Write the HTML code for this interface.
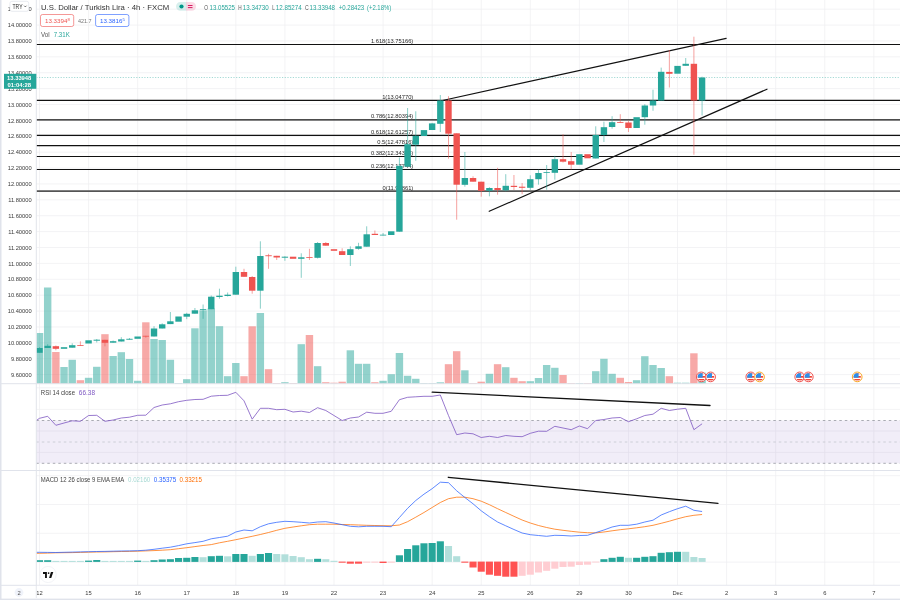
<!DOCTYPE html>
<html><head><meta charset="utf-8"><title>USDTRY</title>
<style>html,body{margin:0;padding:0;background:#fff;overflow:hidden}svg{display:block;opacity:0.999;will-change:transform}</style>
</head><body>
<svg width="900" height="600" viewBox="0 0 900 600" font-family="Liberation Sans, sans-serif">
<rect width="900" height="600" fill="#fff"/>
<path d="M39.5 0V585M88.58 0V585M137.66 0V585M186.74 0V585M235.82 0V585M284.9 0V585M333.98 0V585M383.06 0V585M432.14 0V585M481.22 0V585M530.3 0V585M579.38 0V585M628.46 0V585M677.54 0V585M726.62 0V585M775.7 0V585M824.78 0V585M873.86 0V585M36.3 9.16H900M36.3 25.05H900M36.3 40.94H900M36.3 56.83H900M36.3 72.72H900M36.3 88.61H900M36.3 104.5H900M36.3 120.39H900M36.3 136.28H900M36.3 152.17H900M36.3 168.06H900M36.3 183.95H900M36.3 199.84H900M36.3 215.73H900M36.3 231.62H900M36.3 247.51H900M36.3 263.4H900M36.3 279.29H900M36.3 295.18H900M36.3 311.07H900M36.3 326.96H900M36.3 342.85H900M36.3 358.74H900M36.3 374.63H900M36.3 387.8H900M36.3 409.4H900M36.3 431H900M36.3 452.4H900M36.3 475.7H900M36.3 504.5H900M36.3 533.3H900M36.3 562.1H900" stroke="#efeff2" stroke-width="0.75" fill="none"/>
<rect x="36.3" y="420.5" width="863.7" height="42.8" fill="#7e57c2" fill-opacity="0.11"/>
<path d="M36.3 420.5H900M36.3 463.3H900" stroke="#9598a1" stroke-width="0.8" stroke-dasharray="2.5 3" fill="none"/>
<path d="M36.3 442H900" stroke="#c4c6ce" stroke-width="0.8" stroke-dasharray="2.5 3" fill="none"/>
<path d="M36.3 44.5H900" stroke="#111" stroke-width="1.2"/>
<text x="413.3" y="43.1" font-size="6.2" text-anchor="end" fill="#2a2a2a" textLength="42.42" lengthAdjust="spacingAndGlyphs">1.618(13.75166)</text>
<path d="M36.3 100.45H900" stroke="#111" stroke-width="1.2"/>
<text x="413.3" y="99.05" font-size="6.2" text-anchor="end" fill="#2a2a2a" textLength="31.17" lengthAdjust="spacingAndGlyphs">1(13.04770)</text>
<path d="M36.3 119.85H900" stroke="#111" stroke-width="1.25"/>
<text x="413.3" y="118.45" font-size="6.2" text-anchor="end" fill="#2a2a2a" textLength="42.42" lengthAdjust="spacingAndGlyphs">0.786(12.80394)</text>
<path d="M36.3 135.35H900" stroke="#111" stroke-width="1.2"/>
<text x="413.3" y="133.95" font-size="6.2" text-anchor="end" fill="#2a2a2a" textLength="42.42" lengthAdjust="spacingAndGlyphs">0.618(12.61257)</text>
<path d="M36.3 145.6H900" stroke="#111" stroke-width="1.2"/>
<text x="413.3" y="144.2" font-size="6.2" text-anchor="end" fill="#2a2a2a" textLength="35.99" lengthAdjust="spacingAndGlyphs">0.5(12.47816)</text>
<path d="M36.3 156.5H900" stroke="#111" stroke-width="1.2"/>
<text x="413.3" y="155.1" font-size="6.2" text-anchor="end" fill="#2a2a2a" textLength="42.42" lengthAdjust="spacingAndGlyphs">0.382(12.34375)</text>
<path d="M36.3 169.5H900" stroke="#111" stroke-width="1.2"/>
<text x="413.3" y="168.1" font-size="6.2" text-anchor="end" fill="#2a2a2a" textLength="42.42" lengthAdjust="spacingAndGlyphs">0.236(12.17744)</text>
<path d="M36.3 191.05H900" stroke="#555" stroke-width="1.8"/>
<text x="413.3" y="189.65" font-size="6.2" text-anchor="end" fill="#2a2a2a" textLength="30.74" lengthAdjust="spacingAndGlyphs">0(11.90861)</text>
<rect x="36.6" y="333" width="6.6" height="50.7" fill="#26a69a" fill-opacity="0.5"/>
<rect x="43.98" y="287.5" width="7.4" height="96.2" fill="#26a69a" fill-opacity="0.5"/>
<rect x="52.16" y="352" width="7.4" height="31.7" fill="#ef5350" fill-opacity="0.5"/>
<rect x="60.34" y="367" width="7.4" height="16.7" fill="#26a69a" fill-opacity="0.5"/>
<rect x="68.52" y="359.8" width="7.4" height="23.9" fill="#26a69a" fill-opacity="0.5"/>
<rect x="76.7" y="380.2" width="7.4" height="3.5" fill="#ef5350" fill-opacity="0.5"/>
<rect x="84.88" y="377.8" width="7.4" height="5.9" fill="#26a69a" fill-opacity="0.5"/>
<rect x="93.06" y="366.8" width="7.4" height="16.9" fill="#26a69a" fill-opacity="0.5"/>
<rect x="101.24" y="334.2" width="7.4" height="49.5" fill="#ef5350" fill-opacity="0.5"/>
<rect x="109.42" y="356" width="7.4" height="27.7" fill="#26a69a" fill-opacity="0.5"/>
<rect x="117.6" y="352.2" width="7.4" height="31.5" fill="#26a69a" fill-opacity="0.5"/>
<rect x="125.78" y="359" width="7.4" height="24.7" fill="#26a69a" fill-opacity="0.5"/>
<rect x="133.96" y="380.8" width="7.4" height="2.9" fill="#26a69a" fill-opacity="0.5"/>
<rect x="142.14" y="322.3" width="7.4" height="61.4" fill="#ef5350" fill-opacity="0.5"/>
<rect x="150.32" y="339" width="7.4" height="44.7" fill="#26a69a" fill-opacity="0.5"/>
<rect x="158.5" y="340" width="7.4" height="43.7" fill="#26a69a" fill-opacity="0.5"/>
<rect x="166.68" y="359.8" width="7.4" height="23.9" fill="#26a69a" fill-opacity="0.5"/>
<rect x="174.86" y="383" width="7.4" height="0.7" fill="#26a69a" fill-opacity="0.5"/>
<rect x="183.04" y="379.2" width="7.4" height="4.5" fill="#26a69a" fill-opacity="0.5"/>
<rect x="191.22" y="328.3" width="7.4" height="55.4" fill="#26a69a" fill-opacity="0.5"/>
<rect x="199.4" y="310.3" width="7.4" height="73.4" fill="#26a69a" fill-opacity="0.5"/>
<rect x="207.58" y="308.5" width="7.4" height="75.2" fill="#26a69a" fill-opacity="0.5"/>
<rect x="215.76" y="326.2" width="7.4" height="57.5" fill="#26a69a" fill-opacity="0.5"/>
<rect x="223.94" y="376.2" width="7.4" height="7.5" fill="#26a69a" fill-opacity="0.5"/>
<rect x="232.12" y="363" width="7.4" height="20.7" fill="#26a69a" fill-opacity="0.5"/>
<rect x="240.3" y="376.2" width="7.4" height="7.5" fill="#ef5350" fill-opacity="0.5"/>
<rect x="248.48" y="326.3" width="7.4" height="57.4" fill="#ef5350" fill-opacity="0.5"/>
<rect x="256.66" y="313" width="7.4" height="70.7" fill="#26a69a" fill-opacity="0.5"/>
<rect x="264.84" y="369.2" width="7.4" height="14.5" fill="#ef5350" fill-opacity="0.5"/>
<rect x="273.02" y="383" width="7.4" height="0.7" fill="#ef5350" fill-opacity="0.5"/>
<rect x="281.2" y="382.2" width="7.4" height="1.5" fill="#26a69a" fill-opacity="0.5"/>
<rect x="289.38" y="383" width="7.4" height="0.7" fill="#ef5350" fill-opacity="0.5"/>
<rect x="297.56" y="344.2" width="7.4" height="39.5" fill="#26a69a" fill-opacity="0.5"/>
<rect x="305.74" y="335" width="7.4" height="48.7" fill="#ef5350" fill-opacity="0.5"/>
<rect x="313.92" y="366.2" width="7.4" height="17.5" fill="#26a69a" fill-opacity="0.5"/>
<rect x="322.1" y="382.2" width="7.4" height="1.5" fill="#ef5350" fill-opacity="0.5"/>
<rect x="330.28" y="382.7" width="7.4" height="1" fill="#ef5350" fill-opacity="0.5"/>
<rect x="338.46" y="381.7" width="7.4" height="2" fill="#ef5350" fill-opacity="0.5"/>
<rect x="346.64" y="350.3" width="7.4" height="33.4" fill="#26a69a" fill-opacity="0.5"/>
<rect x="354.82" y="363.8" width="7.4" height="19.9" fill="#26a69a" fill-opacity="0.5"/>
<rect x="363" y="363.8" width="7.4" height="19.9" fill="#26a69a" fill-opacity="0.5"/>
<rect x="371.18" y="382.2" width="7.4" height="1.5" fill="#ef5350" fill-opacity="0.5"/>
<rect x="379.36" y="380.8" width="7.4" height="2.9" fill="#26a69a" fill-opacity="0.5"/>
<rect x="387.54" y="374.2" width="7.4" height="9.5" fill="#26a69a" fill-opacity="0.5"/>
<rect x="395.72" y="353" width="7.4" height="30.7" fill="#26a69a" fill-opacity="0.5"/>
<rect x="403.9" y="375.8" width="7.4" height="7.9" fill="#26a69a" fill-opacity="0.5"/>
<rect x="412.08" y="378.8" width="7.4" height="4.9" fill="#26a69a" fill-opacity="0.5"/>
<rect x="420.26" y="383" width="7.4" height="0.7" fill="#26a69a" fill-opacity="0.5"/>
<rect x="428.44" y="383" width="7.4" height="0.7" fill="#26a69a" fill-opacity="0.5"/>
<rect x="436.62" y="382.3" width="7.4" height="1.4" fill="#26a69a" fill-opacity="0.5"/>
<rect x="444.8" y="364.2" width="7.4" height="19.5" fill="#ef5350" fill-opacity="0.5"/>
<rect x="452.98" y="351.2" width="7.4" height="32.5" fill="#ef5350" fill-opacity="0.5"/>
<rect x="461.16" y="370.3" width="7.4" height="13.4" fill="#26a69a" fill-opacity="0.5"/>
<rect x="469.34" y="383" width="7.4" height="0.7" fill="#ef5350" fill-opacity="0.5"/>
<rect x="477.52" y="381.7" width="7.4" height="2" fill="#ef5350" fill-opacity="0.5"/>
<rect x="485.7" y="373.8" width="7.4" height="9.9" fill="#26a69a" fill-opacity="0.5"/>
<rect x="493.88" y="364.2" width="7.4" height="19.5" fill="#ef5350" fill-opacity="0.5"/>
<rect x="502.06" y="367.2" width="7.4" height="16.5" fill="#26a69a" fill-opacity="0.5"/>
<rect x="510.24" y="377.8" width="7.4" height="5.9" fill="#ef5350" fill-opacity="0.5"/>
<rect x="518.42" y="381.2" width="7.4" height="2.5" fill="#ef5350" fill-opacity="0.5"/>
<rect x="526.6" y="381.2" width="7.4" height="2.5" fill="#26a69a" fill-opacity="0.5"/>
<rect x="534.78" y="378" width="7.4" height="5.7" fill="#26a69a" fill-opacity="0.5"/>
<rect x="542.96" y="365" width="7.4" height="18.7" fill="#26a69a" fill-opacity="0.5"/>
<rect x="551.14" y="367.8" width="7.4" height="15.9" fill="#26a69a" fill-opacity="0.5"/>
<rect x="559.32" y="375" width="7.4" height="8.7" fill="#ef5350" fill-opacity="0.5"/>
<rect x="567.5" y="383" width="7.4" height="0.7" fill="#ef5350" fill-opacity="0.5"/>
<rect x="575.68" y="383" width="7.4" height="0.7" fill="#26a69a" fill-opacity="0.5"/>
<rect x="583.86" y="383" width="7.4" height="0.7" fill="#ef5350" fill-opacity="0.5"/>
<rect x="592.04" y="371.2" width="7.4" height="12.5" fill="#26a69a" fill-opacity="0.5"/>
<rect x="600.22" y="358.8" width="7.4" height="24.9" fill="#26a69a" fill-opacity="0.5"/>
<rect x="608.4" y="373.8" width="7.4" height="9.9" fill="#26a69a" fill-opacity="0.5"/>
<rect x="616.58" y="377.8" width="7.4" height="5.9" fill="#ef5350" fill-opacity="0.5"/>
<rect x="624.76" y="382" width="7.4" height="1.7" fill="#ef5350" fill-opacity="0.5"/>
<rect x="632.94" y="380.2" width="7.4" height="3.5" fill="#26a69a" fill-opacity="0.5"/>
<rect x="641.12" y="356.2" width="7.4" height="27.5" fill="#26a69a" fill-opacity="0.5"/>
<rect x="649.3" y="365" width="7.4" height="18.7" fill="#26a69a" fill-opacity="0.5"/>
<rect x="657.48" y="368" width="7.4" height="15.7" fill="#26a69a" fill-opacity="0.5"/>
<rect x="665.66" y="376.2" width="7.4" height="7.5" fill="#ef5350" fill-opacity="0.5"/>
<rect x="673.84" y="382.7" width="7.4" height="1" fill="#26a69a" fill-opacity="0.5"/>
<rect x="682.02" y="382.7" width="7.4" height="1" fill="#26a69a" fill-opacity="0.5"/>
<rect x="690.2" y="353.3" width="7.4" height="30.4" fill="#ef5350" fill-opacity="0.5"/>
<rect x="698.38" y="372.6" width="7.4" height="11.1" fill="#26a69a" fill-opacity="0.5"/>
<path d="M442.5 100.5L726.2 38.3M489.2 211.3L767 89.2" stroke="#111" stroke-width="1.2" fill="none" stroke-linecap="round"/>
<path d="M36.3 77.5H900" stroke="#26a69a" stroke-opacity="0.6" stroke-width="0.7" stroke-dasharray="1.2 1.5"/>
<path d="M39.5 347.2V352.8" stroke="#26a69a" stroke-width="0.75" stroke-opacity="0.72"/>
<rect x="36.6" y="348" width="6.1" height="4.8" fill="#26a69a"/>
<path d="M47.68 344.2V348" stroke="#26a69a" stroke-width="0.75" stroke-opacity="0.72"/>
<rect x="44.48" y="345.8" width="6.4" height="2.2" fill="#26a69a"/>
<path d="M55.86 345.5V350.3" stroke="#ef5350" stroke-width="0.75" stroke-opacity="0.72"/>
<rect x="52.66" y="346.2" width="6.4" height="2.6" fill="#ef5350"/>
<rect x="60.84" y="347.2" width="6.4" height="1.6" fill="#26a69a"/>
<path d="M72.22 343.3V347.7" stroke="#26a69a" stroke-width="0.75" stroke-opacity="0.72"/>
<rect x="69.02" y="345.2" width="6.4" height="2.5" fill="#26a69a"/>
<path d="M80.4 341.3V345.8" stroke="#ef5350" stroke-width="0.75" stroke-opacity="0.72"/>
<rect x="77.2" y="345" width="6.4" height="0.8" fill="#ef5350"/>
<rect x="85.38" y="340.3" width="6.4" height="3.2" fill="#26a69a"/>
<path d="M96.76 339V342.5" stroke="#26a69a" stroke-width="0.75" stroke-opacity="0.72"/>
<rect x="93.56" y="339.7" width="6.4" height="1" fill="#26a69a"/>
<path d="M104.94 339.8V346.3" stroke="#ef5350" stroke-width="0.75" stroke-opacity="0.72"/>
<rect x="101.74" y="339.8" width="6.4" height="3" fill="#ef5350"/>
<path d="M113.12 340.5V342.7" stroke="#26a69a" stroke-width="0.75" stroke-opacity="0.72"/>
<rect x="109.92" y="341.2" width="6.4" height="1.5" fill="#26a69a"/>
<path d="M121.3 337.2V341.5" stroke="#26a69a" stroke-width="0.75" stroke-opacity="0.72"/>
<rect x="118.1" y="339.3" width="6.4" height="2.2" fill="#26a69a"/>
<path d="M129.48 338V339.7" stroke="#26a69a" stroke-width="0.75" stroke-opacity="0.72"/>
<rect x="126.28" y="338.8" width="6.4" height="0.9" fill="#26a69a"/>
<rect x="134.46" y="336.5" width="6.4" height="2.3" fill="#26a69a"/>
<path d="M145.84 335.8V337.8" stroke="#ef5350" stroke-width="0.75" stroke-opacity="0.72"/>
<rect x="142.64" y="335.8" width="6.4" height="0.8" fill="#ef5350"/>
<path d="M154.02 326.2V336.5" stroke="#26a69a" stroke-width="0.75" stroke-opacity="0.72"/>
<rect x="150.82" y="328.5" width="6.4" height="8" fill="#26a69a"/>
<path d="M162.2 323.3V328.5" stroke="#26a69a" stroke-width="0.75" stroke-opacity="0.72"/>
<rect x="159" y="324.3" width="6.4" height="4.2" fill="#26a69a"/>
<path d="M170.38 312V324.1" stroke="#26a69a" stroke-width="0.75" stroke-opacity="0.72"/>
<rect x="167.18" y="321.3" width="6.4" height="2.8" fill="#26a69a"/>
<rect x="175.36" y="316.5" width="6.4" height="5.2" fill="#26a69a"/>
<path d="M186.74 312.8V319.2" stroke="#26a69a" stroke-width="0.75" stroke-opacity="0.72"/>
<rect x="183.54" y="313.8" width="6.4" height="2.9" fill="#26a69a"/>
<path d="M194.92 308V313.7" stroke="#26a69a" stroke-width="0.75" stroke-opacity="0.72"/>
<rect x="191.72" y="310.3" width="6.4" height="3.4" fill="#26a69a"/>
<path d="M203.1 304.5V318.8" stroke="#26a69a" stroke-width="0.75" stroke-opacity="0.72"/>
<rect x="199.9" y="309.2" width="6.4" height="0.8" fill="#26a69a"/>
<path d="M211.28 295.5V309.2" stroke="#26a69a" stroke-width="0.75" stroke-opacity="0.72"/>
<rect x="208.08" y="296.7" width="6.4" height="12.5" fill="#26a69a"/>
<path d="M219.46 288.7V298.7" stroke="#26a69a" stroke-width="0.75" stroke-opacity="0.72"/>
<rect x="216.26" y="295.7" width="6.4" height="1.3" fill="#26a69a"/>
<path d="M227.64 292.5V296.5" stroke="#26a69a" stroke-width="0.75" stroke-opacity="0.72"/>
<rect x="224.44" y="294.7" width="6.4" height="1.3" fill="#26a69a"/>
<path d="M235.82 266.7V294.7" stroke="#26a69a" stroke-width="0.75" stroke-opacity="0.72"/>
<rect x="232.62" y="272" width="6.4" height="22.7" fill="#26a69a"/>
<path d="M244 268.8V276.8" stroke="#ef5350" stroke-width="0.75" stroke-opacity="0.72"/>
<rect x="240.8" y="272" width="6.4" height="4.8" fill="#ef5350"/>
<path d="M252.18 276V293.7" stroke="#ef5350" stroke-width="0.75" stroke-opacity="0.72"/>
<rect x="248.98" y="277" width="6.4" height="13.7" fill="#ef5350"/>
<path d="M260.36 241.3V308.7" stroke="#26a69a" stroke-width="0.75" stroke-opacity="0.72"/>
<rect x="257.16" y="256" width="6.4" height="34.7" fill="#26a69a"/>
<path d="M268.54 253.8V268.8" stroke="#ef5350" stroke-width="0.75" stroke-opacity="0.72"/>
<rect x="265.34" y="255.3" width="6.4" height="0.9" fill="#ef5350"/>
<path d="M276.72 255.8V260" stroke="#ef5350" stroke-width="0.75" stroke-opacity="0.72"/>
<rect x="273.52" y="255.8" width="6.4" height="1.7" fill="#ef5350"/>
<path d="M284.9 256.2V260.8" stroke="#26a69a" stroke-width="0.75" stroke-opacity="0.72"/>
<rect x="281.7" y="256.7" width="6.4" height="1" fill="#26a69a"/>
<rect x="289.88" y="256.7" width="6.4" height="2.1" fill="#ef5350"/>
<path d="M301.26 253.3V277.8" stroke="#26a69a" stroke-width="0.75" stroke-opacity="0.72"/>
<rect x="298.06" y="257.3" width="6.4" height="1.5" fill="#26a69a"/>
<path d="M309.44 248.8V260" stroke="#ef5350" stroke-width="0.75" stroke-opacity="0.72"/>
<rect x="306.24" y="257" width="6.4" height="0.8" fill="#ef5350"/>
<path d="M317.62 242V258.5" stroke="#26a69a" stroke-width="0.75" stroke-opacity="0.72"/>
<rect x="314.42" y="243" width="6.4" height="14.8" fill="#26a69a"/>
<path d="M325.8 242V245.7" stroke="#ef5350" stroke-width="0.75" stroke-opacity="0.72"/>
<rect x="322.6" y="243" width="6.4" height="2.7" fill="#ef5350"/>
<rect x="330.78" y="249.2" width="6.4" height="1.6" fill="#ef5350"/>
<path d="M342.16 248.3V255" stroke="#ef5350" stroke-width="0.75" stroke-opacity="0.72"/>
<rect x="338.96" y="251.2" width="6.4" height="3.8" fill="#ef5350"/>
<path d="M350.34 246.3V266" stroke="#26a69a" stroke-width="0.75" stroke-opacity="0.72"/>
<rect x="347.14" y="249.2" width="6.4" height="5.8" fill="#26a69a"/>
<path d="M358.52 242.8V249.7" stroke="#26a69a" stroke-width="0.75" stroke-opacity="0.72"/>
<rect x="355.32" y="246.3" width="6.4" height="2.5" fill="#26a69a"/>
<path d="M366.7 226.3V246.7" stroke="#26a69a" stroke-width="0.75" stroke-opacity="0.72"/>
<rect x="363.5" y="234.3" width="6.4" height="12.4" fill="#26a69a"/>
<path d="M374.88 230.5V235" stroke="#ef5350" stroke-width="0.75" stroke-opacity="0.72"/>
<rect x="371.68" y="233.8" width="6.4" height="1.2" fill="#ef5350"/>
<path d="M383.06 233V235.5" stroke="#26a69a" stroke-width="0.75" stroke-opacity="0.72"/>
<rect x="379.86" y="234.7" width="6.4" height="0.8" fill="#26a69a"/>
<rect x="388.04" y="231.3" width="6.4" height="3.7" fill="#26a69a"/>
<path d="M399.42 157.5V231.7" stroke="#26a69a" stroke-width="0.75" stroke-opacity="0.72"/>
<rect x="396.22" y="165.8" width="6.4" height="65.9" fill="#26a69a"/>
<path d="M407.6 108V166.7" stroke="#26a69a" stroke-width="0.75" stroke-opacity="0.72"/>
<rect x="404.4" y="144.2" width="6.4" height="22.5" fill="#26a69a"/>
<path d="M415.78 111.3V160.8" stroke="#26a69a" stroke-width="0.75" stroke-opacity="0.72"/>
<rect x="412.58" y="135.8" width="6.4" height="8.9" fill="#26a69a"/>
<rect x="420.76" y="130.1" width="6.4" height="5.9" fill="#26a69a"/>
<path d="M432.14 122.9V130" stroke="#26a69a" stroke-width="0.75" stroke-opacity="0.72"/>
<rect x="428.94" y="123.4" width="6.4" height="6.6" fill="#26a69a"/>
<path d="M440.32 95V132" stroke="#26a69a" stroke-width="0.75" stroke-opacity="0.72"/>
<rect x="437.12" y="100.5" width="6.4" height="23.3" fill="#26a69a"/>
<path d="M448.5 96.2V158.7" stroke="#ef5350" stroke-width="0.75" stroke-opacity="0.72"/>
<rect x="445.3" y="100.5" width="6.4" height="33.2" fill="#ef5350"/>
<path d="M456.68 133.3V219.7" stroke="#ef5350" stroke-width="0.75" stroke-opacity="0.72"/>
<rect x="453.48" y="133.3" width="6.4" height="51.4" fill="#ef5350"/>
<path d="M464.86 152V186.7" stroke="#26a69a" stroke-width="0.75" stroke-opacity="0.72"/>
<rect x="461.66" y="178" width="6.4" height="6.8" fill="#26a69a"/>
<path d="M473.04 176.3V181.7" stroke="#ef5350" stroke-width="0.75" stroke-opacity="0.72"/>
<rect x="469.84" y="178" width="6.4" height="3.7" fill="#ef5350"/>
<path d="M481.22 181.7V196.7" stroke="#ef5350" stroke-width="0.75" stroke-opacity="0.72"/>
<rect x="478.02" y="181.7" width="6.4" height="9.1" fill="#ef5350"/>
<path d="M489.4 187.2V196.3" stroke="#26a69a" stroke-width="0.75" stroke-opacity="0.72"/>
<rect x="486.2" y="188" width="6.4" height="2.8" fill="#26a69a"/>
<path d="M497.58 167.8V194.7" stroke="#ef5350" stroke-width="0.75" stroke-opacity="0.72"/>
<rect x="494.38" y="188" width="6.4" height="2" fill="#ef5350"/>
<path d="M505.76 174.2V191.3" stroke="#26a69a" stroke-width="0.75" stroke-opacity="0.72"/>
<rect x="502.56" y="185.8" width="6.4" height="4.5" fill="#26a69a"/>
<path d="M513.94 175V190" stroke="#ef5350" stroke-width="0.75" stroke-opacity="0.72"/>
<rect x="510.74" y="185.8" width="6.4" height="1.2" fill="#ef5350"/>
<path d="M522.12 183V194.2" stroke="#ef5350" stroke-width="0.75" stroke-opacity="0.72"/>
<rect x="518.92" y="186.7" width="6.4" height="1.1" fill="#ef5350"/>
<path d="M530.3 175.3V190" stroke="#26a69a" stroke-width="0.75" stroke-opacity="0.72"/>
<rect x="527.1" y="179.2" width="6.4" height="8.6" fill="#26a69a"/>
<path d="M538.48 169.7V184.7" stroke="#26a69a" stroke-width="0.75" stroke-opacity="0.72"/>
<rect x="535.28" y="173" width="6.4" height="6.2" fill="#26a69a"/>
<path d="M546.66 165V189.7" stroke="#26a69a" stroke-width="0.75" stroke-opacity="0.72"/>
<rect x="543.46" y="172" width="6.4" height="0.8" fill="#26a69a"/>
<path d="M554.84 155.8V179.7" stroke="#26a69a" stroke-width="0.75" stroke-opacity="0.72"/>
<rect x="551.64" y="159.2" width="6.4" height="13.6" fill="#26a69a"/>
<path d="M563.02 134.2V162.5" stroke="#ef5350" stroke-width="0.75" stroke-opacity="0.72"/>
<rect x="559.82" y="159.2" width="6.4" height="2.5" fill="#ef5350"/>
<path d="M571.2 152V169.5" stroke="#ef5350" stroke-width="0.75" stroke-opacity="0.72"/>
<rect x="568" y="161.2" width="6.4" height="3.5" fill="#ef5350"/>
<rect x="576.18" y="154.2" width="6.4" height="10.5" fill="#26a69a"/>
<rect x="584.36" y="154.2" width="6.4" height="4.1" fill="#ef5350"/>
<path d="M595.74 126.3V158.5" stroke="#26a69a" stroke-width="0.75" stroke-opacity="0.72"/>
<rect x="592.54" y="135" width="6.4" height="23.5" fill="#26a69a"/>
<path d="M603.92 121.7V142" stroke="#26a69a" stroke-width="0.75" stroke-opacity="0.72"/>
<rect x="600.72" y="127.2" width="6.4" height="7.8" fill="#26a69a"/>
<path d="M612.1 116.2V128.7" stroke="#26a69a" stroke-width="0.75" stroke-opacity="0.72"/>
<rect x="608.9" y="122.2" width="6.4" height="4.8" fill="#26a69a"/>
<path d="M620.28 114.2V122.8" stroke="#ef5350" stroke-width="0.75" stroke-opacity="0.72"/>
<rect x="617.08" y="122" width="6.4" height="0.8" fill="#ef5350"/>
<path d="M628.46 120.8V132" stroke="#ef5350" stroke-width="0.75" stroke-opacity="0.72"/>
<rect x="625.26" y="122.5" width="6.4" height="5.5" fill="#ef5350"/>
<rect x="633.44" y="117.2" width="6.4" height="10.8" fill="#26a69a"/>
<path d="M644.82 104.2V124.7" stroke="#26a69a" stroke-width="0.75" stroke-opacity="0.72"/>
<rect x="641.62" y="105.5" width="6.4" height="11.7" fill="#26a69a"/>
<path d="M653 89.7V110.8" stroke="#26a69a" stroke-width="0.75" stroke-opacity="0.72"/>
<rect x="649.8" y="100.5" width="6.4" height="5" fill="#26a69a"/>
<path d="M661.18 67.6V100.5" stroke="#26a69a" stroke-width="0.75" stroke-opacity="0.72"/>
<rect x="657.98" y="71.8" width="6.4" height="28.7" fill="#26a69a"/>
<path d="M669.36 50V87.5" stroke="#ef5350" stroke-width="0.75" stroke-opacity="0.72"/>
<rect x="666.16" y="71.9" width="6.4" height="1.9" fill="#ef5350"/>
<rect x="674.34" y="65.9" width="6.4" height="7.8" fill="#26a69a"/>
<path d="M685.72 58V65.8" stroke="#26a69a" stroke-width="0.75" stroke-opacity="0.72"/>
<rect x="682.52" y="63.8" width="6.4" height="2" fill="#26a69a"/>
<path d="M693.9 36.7V154.7" stroke="#ef5350" stroke-width="0.75" stroke-opacity="0.72"/>
<rect x="690.7" y="63.8" width="6.4" height="36.7" fill="#ef5350"/>
<path d="M702.08 76.7V115.5" stroke="#26a69a" stroke-width="0.75" stroke-opacity="0.72"/>
<rect x="698.88" y="77.5" width="6.4" height="23" fill="#26a69a"/>
<g transform="translate(701.3 376.9)"><circle r="4.85" fill="#fff" stroke="#ef5350" stroke-width="1"/><clipPath id="fc7013"><circle r="3.7"/></clipPath><g clip-path="url(#fc7013)"><rect x="-4" y="-4" width="8" height="8" fill="#fff"/><rect x="-4" y="-3.9" width="8" height="1.20" fill="#f44336"/><rect x="-4" y="-0.9" width="8" height="1.70" fill="#f44336"/><rect x="-4" y="2.1" width="8" height="1.80" fill="#f44336"/><rect x="-4" y="-4" width="5.4" height="4.8" fill="#2b8fea"/></g></g>
<g transform="translate(710.6 376.9)"><circle r="4.85" fill="#fff" stroke="#ef5350" stroke-width="1"/><clipPath id="fc7106"><circle r="3.7"/></clipPath><g clip-path="url(#fc7106)"><rect x="-4" y="-4" width="8" height="8" fill="#fff"/><rect x="-4" y="-3.9" width="8" height="1.20" fill="#f44336"/><rect x="-4" y="-0.9" width="8" height="1.70" fill="#f44336"/><rect x="-4" y="2.1" width="8" height="1.80" fill="#f44336"/><rect x="-4" y="-4" width="5.4" height="4.8" fill="#2b8fea"/></g></g>
<g transform="translate(750.8 376.9)"><circle r="4.85" fill="#fff" stroke="#ef5350" stroke-width="1"/><clipPath id="fc7508"><circle r="3.7"/></clipPath><g clip-path="url(#fc7508)"><rect x="-4" y="-4" width="8" height="8" fill="#fff"/><rect x="-4" y="-3.9" width="8" height="1.20" fill="#f44336"/><rect x="-4" y="-0.9" width="8" height="1.70" fill="#f44336"/><rect x="-4" y="2.1" width="8" height="1.80" fill="#f44336"/><rect x="-4" y="-4" width="5.4" height="4.8" fill="#2b8fea"/></g></g>
<g transform="translate(759.5 376.9)"><circle r="4.85" fill="#fff" stroke="#f9a825" stroke-width="1"/><clipPath id="fc7595"><circle r="3.7"/></clipPath><g clip-path="url(#fc7595)"><rect x="-4" y="-4" width="8" height="8" fill="#fff"/><rect x="-4" y="-3.9" width="8" height="1.20" fill="#f44336"/><rect x="-4" y="-0.9" width="8" height="1.70" fill="#f44336"/><rect x="-4" y="2.1" width="8" height="1.80" fill="#f44336"/><rect x="-4" y="-4" width="5.4" height="4.8" fill="#2b8fea"/></g></g>
<g transform="translate(799.7 376.9)"><circle r="4.85" fill="#fff" stroke="#ef5350" stroke-width="1"/><clipPath id="fc7997"><circle r="3.7"/></clipPath><g clip-path="url(#fc7997)"><rect x="-4" y="-4" width="8" height="8" fill="#fff"/><rect x="-4" y="-3.9" width="8" height="1.20" fill="#f44336"/><rect x="-4" y="-0.9" width="8" height="1.70" fill="#f44336"/><rect x="-4" y="2.1" width="8" height="1.80" fill="#f44336"/><rect x="-4" y="-4" width="5.4" height="4.8" fill="#2b8fea"/></g></g>
<g transform="translate(808.3 376.9)"><circle r="4.85" fill="#fff" stroke="#ef5350" stroke-width="1"/><clipPath id="fc8083"><circle r="3.7"/></clipPath><g clip-path="url(#fc8083)"><rect x="-4" y="-4" width="8" height="8" fill="#fff"/><rect x="-4" y="-3.9" width="8" height="1.20" fill="#f44336"/><rect x="-4" y="-0.9" width="8" height="1.70" fill="#f44336"/><rect x="-4" y="2.1" width="8" height="1.80" fill="#f44336"/><rect x="-4" y="-4" width="5.4" height="4.8" fill="#2b8fea"/></g></g>
<g transform="translate(857.2 376.9)"><circle r="4.85" fill="#fff" stroke="#f9a825" stroke-width="1"/><clipPath id="fc8572"><circle r="3.7"/></clipPath><g clip-path="url(#fc8572)"><rect x="-4" y="-4" width="8" height="8" fill="#fff"/><rect x="-4" y="-3.9" width="8" height="1.20" fill="#f44336"/><rect x="-4" y="-0.9" width="8" height="1.70" fill="#f44336"/><rect x="-4" y="2.1" width="8" height="1.80" fill="#f44336"/><rect x="-4" y="-4" width="5.4" height="4.8" fill="#2b8fea"/></g></g>
<path d="M0 383.7H900M0 470.5H900M0 585.3H900" stroke="#e0e3eb" stroke-width="1"/>
<path d="M36.3 420.5L39.5 418.3L47.68 416.3L55.86 425.3L64.04 423L72.22 420.8L80.4 421.3L88.58 415.5L96.76 415.3L104.94 421.3L113.12 420L121.3 418L129.48 417.2L137.66 415.3L145.84 415.2L154.02 407.5L162.2 405L170.38 403.8L178.56 401.7L186.74 400.3L194.92 399.5L203.1 399.3L211.28 396.2L219.46 395.5L227.64 395.3L235.82 392.3L244 400.8L252.18 419.2L260.36 408.3L268.54 408.3L276.72 409.7L284.9 409.3L293.08 412L301.26 411.2L309.44 412.5L317.62 407.7L325.8 410.5L333.98 415.5L342.16 420.5L350.34 418L358.52 417L366.7 412.2L374.88 413.3L383.06 413.3L391.24 411.3L399.42 399.7L407.6 397.3L415.78 396.8L423.96 396.3L432.14 396.3L440.32 395L448.5 415.6L456.68 434.7L464.86 433L473.04 433.8L481.22 437.5L489.4 436.3L497.58 437.5L505.76 435.5L513.94 436.3L522.12 436.7L530.3 433.3L538.48 431.2L546.66 431.3L554.84 426.3L563.02 428L571.2 429.7L579.38 426L587.56 428.7L595.74 420.5L603.92 419.5L612.1 418L620.28 417.5L628.46 421.7L636.64 418.8L644.82 415.5L653 414.2L661.18 408.3L669.36 410.5L677.54 409.2L685.72 408.3L693.9 429.7L702.08 423.8" stroke="#7e57c2" stroke-width="0.8" fill="none" stroke-linejoin="round"/>
<path d="M432.2 392.2L710 405.5" stroke="#111" stroke-width="1.35" stroke-linecap="round"/>
<rect x="36.6" y="560.2" width="6.45" height="1.7" fill="#26a69a"/>
<rect x="44.13" y="560.2" width="7.1" height="1.7" fill="#26a69a"/>
<rect x="52.31" y="560.9" width="7.1" height="1" fill="#b2dfdb"/>
<rect x="60.49" y="560.9" width="7.1" height="1" fill="#b2dfdb"/>
<rect x="68.67" y="560.9" width="7.1" height="1" fill="#b2dfdb"/>
<rect x="76.85" y="560.9" width="7.1" height="1" fill="#b2dfdb"/>
<rect x="85.03" y="560.6" width="7.1" height="1.3" fill="#26a69a"/>
<rect x="93.21" y="560" width="7.1" height="1.9" fill="#26a69a"/>
<rect x="101.39" y="560.9" width="7.1" height="1" fill="#b2dfdb"/>
<rect x="109.57" y="560.9" width="7.1" height="1" fill="#b2dfdb"/>
<rect x="117.75" y="560.9" width="7.1" height="1" fill="#b2dfdb"/>
<rect x="125.93" y="560.9" width="7.1" height="1" fill="#b2dfdb"/>
<rect x="134.11" y="560.6" width="7.1" height="1.3" fill="#26a69a"/>
<rect x="142.29" y="560.9" width="7.1" height="1" fill="#b2dfdb"/>
<rect x="150.47" y="560.2" width="7.1" height="1.7" fill="#26a69a"/>
<rect x="158.65" y="559.5" width="7.1" height="2.4" fill="#26a69a"/>
<rect x="166.83" y="559.2" width="7.1" height="2.7" fill="#26a69a"/>
<rect x="175.01" y="558" width="7.1" height="3.9" fill="#26a69a"/>
<rect x="183.19" y="557.8" width="7.1" height="4.1" fill="#26a69a"/>
<rect x="191.37" y="557" width="7.1" height="4.9" fill="#26a69a"/>
<rect x="199.55" y="557.2" width="7.1" height="4.7" fill="#b2dfdb"/>
<rect x="207.73" y="556.2" width="7.1" height="5.7" fill="#26a69a"/>
<rect x="215.91" y="555.8" width="7.1" height="6.1" fill="#26a69a"/>
<rect x="224.09" y="556.3" width="7.1" height="5.6" fill="#b2dfdb"/>
<rect x="232.27" y="554" width="7.1" height="7.9" fill="#26a69a"/>
<rect x="240.45" y="554" width="7.1" height="7.9" fill="#26a69a"/>
<rect x="248.63" y="555.8" width="7.1" height="6.1" fill="#b2dfdb"/>
<rect x="256.81" y="554" width="7.1" height="7.9" fill="#26a69a"/>
<rect x="264.99" y="553" width="7.1" height="8.9" fill="#26a69a"/>
<rect x="273.17" y="554" width="7.1" height="7.9" fill="#b2dfdb"/>
<rect x="281.35" y="554.3" width="7.1" height="7.6" fill="#b2dfdb"/>
<rect x="289.53" y="556" width="7.1" height="5.9" fill="#b2dfdb"/>
<rect x="297.71" y="557.2" width="7.1" height="4.7" fill="#b2dfdb"/>
<rect x="305.89" y="559.2" width="7.1" height="2.7" fill="#b2dfdb"/>
<rect x="314.07" y="558.8" width="7.1" height="3.1" fill="#26a69a"/>
<rect x="322.25" y="559.2" width="7.1" height="2.7" fill="#b2dfdb"/>
<rect x="330.43" y="560.8" width="7.1" height="1.1" fill="#b2dfdb"/>
<rect x="338.61" y="561.6" width="7.1" height="1.1" fill="#ff5252"/>
<rect x="346.79" y="561.6" width="7.1" height="2.1" fill="#ff5252"/>
<rect x="354.97" y="561.6" width="7.1" height="2.1" fill="#ff5252"/>
<rect x="363.15" y="561.6" width="7.1" height="1.1" fill="#ffcdd2"/>
<rect x="371.33" y="561.6" width="7.1" height="1.1" fill="#ffcdd2"/>
<rect x="379.51" y="561.6" width="7.1" height="1.4" fill="#ff5252"/>
<rect x="387.69" y="561.6" width="7.1" height="1.1" fill="#ffcdd2"/>
<rect x="395.87" y="555.3" width="7.1" height="6.6" fill="#26a69a"/>
<rect x="404.05" y="549" width="7.1" height="12.9" fill="#26a69a"/>
<rect x="412.23" y="545.3" width="7.1" height="16.6" fill="#26a69a"/>
<rect x="420.41" y="543.3" width="7.1" height="18.6" fill="#26a69a"/>
<rect x="428.59" y="543" width="7.1" height="18.9" fill="#26a69a"/>
<rect x="436.77" y="541.3" width="7.1" height="20.6" fill="#26a69a"/>
<rect x="444.95" y="546" width="7.1" height="15.9" fill="#b2dfdb"/>
<rect x="453.13" y="556.2" width="7.1" height="5.7" fill="#b2dfdb"/>
<rect x="461.31" y="561.6" width="7.1" height="1.1" fill="#ff5252"/>
<rect x="469.49" y="561.6" width="7.1" height="5.9" fill="#ff5252"/>
<rect x="477.67" y="561.6" width="7.1" height="10.1" fill="#ff5252"/>
<rect x="485.85" y="561.6" width="7.1" height="13.1" fill="#ff5252"/>
<rect x="494.03" y="561.6" width="7.1" height="14.2" fill="#ff5252"/>
<rect x="502.21" y="561.6" width="7.1" height="15.1" fill="#ff5252"/>
<rect x="510.39" y="561.6" width="7.1" height="15.1" fill="#ff5252"/>
<rect x="518.57" y="561.6" width="7.1" height="14.2" fill="#ffcdd2"/>
<rect x="526.75" y="561.6" width="7.1" height="13.1" fill="#ffcdd2"/>
<rect x="534.93" y="561.6" width="7.1" height="10.9" fill="#ffcdd2"/>
<rect x="543.11" y="561.6" width="7.1" height="9.2" fill="#ffcdd2"/>
<rect x="551.29" y="561.6" width="7.1" height="7.1" fill="#ffcdd2"/>
<rect x="559.47" y="561.6" width="7.1" height="5.4" fill="#ffcdd2"/>
<rect x="567.65" y="561.6" width="7.1" height="5.1" fill="#ffcdd2"/>
<rect x="575.83" y="561.6" width="7.1" height="3.4" fill="#ffcdd2"/>
<rect x="584.01" y="561.6" width="7.1" height="3.1" fill="#ffcdd2"/>
<rect x="592.19" y="561.6" width="7.1" height="0.9" fill="#ffcdd2"/>
<rect x="600.37" y="559.2" width="7.1" height="2.7" fill="#26a69a"/>
<rect x="608.55" y="557.8" width="7.1" height="4.1" fill="#26a69a"/>
<rect x="616.73" y="556.8" width="7.1" height="5.1" fill="#26a69a"/>
<rect x="624.91" y="557.8" width="7.1" height="4.1" fill="#b2dfdb"/>
<rect x="633.09" y="557.8" width="7.1" height="4.1" fill="#26a69a"/>
<rect x="641.27" y="556.8" width="7.1" height="5.1" fill="#26a69a"/>
<rect x="649.45" y="556.2" width="7.1" height="5.7" fill="#26a69a"/>
<rect x="657.63" y="552.8" width="7.1" height="9.1" fill="#26a69a"/>
<rect x="665.81" y="552.2" width="7.1" height="9.7" fill="#26a69a"/>
<rect x="673.99" y="551.8" width="7.1" height="10.1" fill="#26a69a"/>
<rect x="682.17" y="551.8" width="7.1" height="10.1" fill="#b2dfdb"/>
<rect x="690.35" y="557" width="7.1" height="4.9" fill="#b2dfdb"/>
<rect x="698.53" y="558" width="7.1" height="3.9" fill="#b2dfdb"/>
<path d="M36.3 553.3L39.5 553.3L47.68 553.1L55.86 552.8L64.04 552.7L72.22 552.6L80.4 552.4L88.58 552.2L96.76 552L104.94 551.9L113.12 551.7L121.3 551.5L129.48 551.4L137.66 551.2L145.84 550.9L154.02 550.6L162.2 550.2L170.38 549.7L178.56 548.7L186.74 547.7L194.92 546.6L203.1 545.5L211.28 544.6L219.46 542.8L227.64 541.3L235.82 539.7L244 538L252.18 536.3L260.36 534.5L268.54 532.5L276.72 530.3L284.9 528.3L293.08 527L301.26 525.8L309.44 524.7L317.62 524.2L325.8 524.2L333.98 524.2L342.16 524.5L350.34 524.7L358.52 525L366.7 525.3L374.88 525.5L383.06 525.7L391.24 525.8L399.42 525L407.6 521.7L415.78 517.2L423.96 512.5L432.14 507.5L440.32 502.5L448.5 498.7L456.68 497.2L464.86 497.2L473.04 498.7L481.22 501.2L489.4 504.7L497.58 508.7L505.76 512.5L513.94 516.3L522.12 520L530.3 523L538.48 525.5L546.66 527.5L554.84 529.2L563.02 530.3L571.2 531.3L579.38 532.2L587.56 532.7L595.74 532.9L603.92 532L612.1 530.8L620.28 529.7L628.46 528.8L636.64 527.8L644.82 526.7L653 525.3L661.18 523.3L669.36 521.2L677.54 518.8L685.72 516.7L693.9 515.3L702.08 514.5" stroke="#ff6d00" stroke-width="0.75" fill="none" stroke-linejoin="round"/>
<path d="M36.3 552.3L39.5 552.3L47.68 552.4L55.86 552.5L64.04 552.3L72.22 552.1L80.4 551.9L88.58 551.7L96.76 551.5L104.94 551.4L113.12 551.2L121.3 551L129.48 550.9L137.66 550.7L145.84 550.2L154.02 549.3L162.2 548.2L170.38 547.2L178.56 545.6L186.74 543.8L194.92 542.6L203.1 541.3L211.28 538.8L219.46 537.5L227.64 536.2L235.82 532L244 530L252.18 530.8L260.36 526.7L268.54 523.8L276.72 522.3L284.9 521.3L293.08 521.7L301.26 522.3L309.44 523L317.62 522L325.8 521.7L333.98 523L342.16 524.7L350.34 526.3L358.52 526.8L366.7 526.3L374.88 526.3L383.06 526.3L391.24 526.7L399.42 517.5L407.6 508.3L415.78 500.5L423.96 494.2L432.14 488.7L440.32 482.2L448.5 482.7L456.68 490.8L464.86 497.5L473.04 503.8L481.22 510.8L489.4 516.7L497.58 522L505.76 525.8L513.94 529.5L522.12 533L530.3 534.7L538.48 535.5L546.66 536.3L554.84 535.3L563.02 535.5L571.2 536L579.38 535.5L587.56 535.3L595.74 532.6L603.92 530L612.1 527L620.28 525.3L628.46 525.3L636.64 524.2L644.82 522L653 520.2L661.18 515L669.36 511.7L677.54 508.7L685.72 506.2L693.9 510.3L702.08 511.5" stroke="#2962ff" stroke-width="0.75" fill="none" stroke-linejoin="round"/>
<path d="M448.3 477.3L718 503.3" stroke="#111" stroke-width="1.35" stroke-linecap="round"/>
<rect x="0" y="0" width="36" height="600" fill="#fff"/>
<path d="M0 383.7H36.3M0 470.5H36.3M0 585.3H36.3" stroke="#e0e3eb" stroke-width="1"/>
<path d="M36.3 0V598" stroke="#e2e4ea" stroke-width="1"/>
<text x="31.6" y="11.31" font-size="6.2" text-anchor="end" fill="#3a3a3a" textLength="23.86" lengthAdjust="spacingAndGlyphs">14.20000</text>
<text x="31.6" y="27.2" font-size="6.2" text-anchor="end" fill="#3a3a3a" textLength="23.86" lengthAdjust="spacingAndGlyphs">14.00000</text>
<text x="31.6" y="43.09" font-size="6.2" text-anchor="end" fill="#3a3a3a" textLength="23.86" lengthAdjust="spacingAndGlyphs">13.80000</text>
<text x="31.6" y="58.98" font-size="6.2" text-anchor="end" fill="#3a3a3a" textLength="23.86" lengthAdjust="spacingAndGlyphs">13.60000</text>
<text x="31.6" y="74.87" font-size="6.2" text-anchor="end" fill="#3a3a3a" textLength="23.86" lengthAdjust="spacingAndGlyphs">13.40000</text>
<text x="31.6" y="90.76" font-size="6.2" text-anchor="end" fill="#3a3a3a" textLength="23.86" lengthAdjust="spacingAndGlyphs">13.20000</text>
<text x="31.6" y="106.65" font-size="6.2" text-anchor="end" fill="#3a3a3a" textLength="23.86" lengthAdjust="spacingAndGlyphs">13.00000</text>
<text x="31.6" y="122.54" font-size="6.2" text-anchor="end" fill="#3a3a3a" textLength="23.86" lengthAdjust="spacingAndGlyphs">12.80000</text>
<text x="31.6" y="138.43" font-size="6.2" text-anchor="end" fill="#3a3a3a" textLength="23.86" lengthAdjust="spacingAndGlyphs">12.60000</text>
<text x="31.6" y="154.32" font-size="6.2" text-anchor="end" fill="#3a3a3a" textLength="23.86" lengthAdjust="spacingAndGlyphs">12.40000</text>
<text x="31.6" y="170.21" font-size="6.2" text-anchor="end" fill="#3a3a3a" textLength="23.86" lengthAdjust="spacingAndGlyphs">12.20000</text>
<text x="31.6" y="186.1" font-size="6.2" text-anchor="end" fill="#3a3a3a" textLength="23.86" lengthAdjust="spacingAndGlyphs">12.00000</text>
<text x="31.6" y="201.99" font-size="6.2" text-anchor="end" fill="#3a3a3a" textLength="23.43" lengthAdjust="spacingAndGlyphs">11.80000</text>
<text x="31.6" y="217.88" font-size="6.2" text-anchor="end" fill="#3a3a3a" textLength="23.43" lengthAdjust="spacingAndGlyphs">11.60000</text>
<text x="31.6" y="233.77" font-size="6.2" text-anchor="end" fill="#3a3a3a" textLength="23.43" lengthAdjust="spacingAndGlyphs">11.40000</text>
<text x="31.6" y="249.66" font-size="6.2" text-anchor="end" fill="#3a3a3a" textLength="23.43" lengthAdjust="spacingAndGlyphs">11.20000</text>
<text x="31.6" y="265.55" font-size="6.2" text-anchor="end" fill="#3a3a3a" textLength="23.43" lengthAdjust="spacingAndGlyphs">11.00000</text>
<text x="31.6" y="281.44" font-size="6.2" text-anchor="end" fill="#3a3a3a" textLength="23.86" lengthAdjust="spacingAndGlyphs">10.80000</text>
<text x="31.6" y="297.33" font-size="6.2" text-anchor="end" fill="#3a3a3a" textLength="23.86" lengthAdjust="spacingAndGlyphs">10.60000</text>
<text x="31.6" y="313.22" font-size="6.2" text-anchor="end" fill="#3a3a3a" textLength="23.86" lengthAdjust="spacingAndGlyphs">10.40000</text>
<text x="31.6" y="329.11" font-size="6.2" text-anchor="end" fill="#3a3a3a" textLength="23.86" lengthAdjust="spacingAndGlyphs">10.20000</text>
<text x="31.6" y="345" font-size="6.2" text-anchor="end" fill="#3a3a3a" textLength="23.86" lengthAdjust="spacingAndGlyphs">10.00000</text>
<text x="31.6" y="360.89" font-size="6.2" text-anchor="end" fill="#3a3a3a" textLength="20.67" lengthAdjust="spacingAndGlyphs">9.80000</text>
<text x="31.6" y="376.78" font-size="6.2" text-anchor="end" fill="#3a3a3a" textLength="20.67" lengthAdjust="spacingAndGlyphs">9.60000</text>
<rect x="4" y="73.8" width="32.3" height="15" fill="#26a69a"/>
<text x="19.2" y="80" font-size="5.8" text-anchor="middle" fill="#fff" font-weight="bold" textLength="24.2" lengthAdjust="spacingAndGlyphs">13.33948</text>
<text x="19.2" y="87.1" font-size="5.8" text-anchor="middle" fill="#fff" font-weight="bold" textLength="23.6" lengthAdjust="spacingAndGlyphs">01:04:28</text>
<rect x="9.9" y="1.3" width="18.8" height="10" rx="2" fill="#fff" stroke="#dfe2ea" stroke-width="0.7"/>
<text x="12.5" y="8.6" font-size="6.3" fill="#2a2a2a" textLength="10" lengthAdjust="spacingAndGlyphs">TRY</text>
<path d="M24.1 5.7L25.3 6.9L26.5 5.7" stroke="#333" stroke-width="0.7" fill="none"/>
<rect x="36.8" y="585.8" width="864" height="13" fill="#fff"/>
<clipPath id="tc"><rect x="36.8" y="586" width="864" height="13"/></clipPath><g clip-path="url(#tc)">
<text x="39.5" y="594.9" font-size="6.2" text-anchor="middle" fill="#3a3a3a" textLength="6.45" lengthAdjust="spacingAndGlyphs">12</text>
<text x="88.58" y="594.9" font-size="6.2" text-anchor="middle" fill="#3a3a3a" textLength="6.45" lengthAdjust="spacingAndGlyphs">15</text>
<text x="137.66" y="594.9" font-size="6.2" text-anchor="middle" fill="#3a3a3a" textLength="6.45" lengthAdjust="spacingAndGlyphs">16</text>
<text x="186.74" y="594.9" font-size="6.2" text-anchor="middle" fill="#3a3a3a" textLength="6.45" lengthAdjust="spacingAndGlyphs">17</text>
<text x="235.82" y="594.9" font-size="6.2" text-anchor="middle" fill="#3a3a3a" textLength="6.45" lengthAdjust="spacingAndGlyphs">18</text>
<text x="284.9" y="594.9" font-size="6.2" text-anchor="middle" fill="#3a3a3a" textLength="6.45" lengthAdjust="spacingAndGlyphs">19</text>
<text x="333.98" y="594.9" font-size="6.2" text-anchor="middle" fill="#3a3a3a" textLength="6.45" lengthAdjust="spacingAndGlyphs">22</text>
<text x="383.06" y="594.9" font-size="6.2" text-anchor="middle" fill="#3a3a3a" textLength="6.45" lengthAdjust="spacingAndGlyphs">23</text>
<text x="432.14" y="594.9" font-size="6.2" text-anchor="middle" fill="#3a3a3a" textLength="6.45" lengthAdjust="spacingAndGlyphs">24</text>
<text x="481.22" y="594.9" font-size="6.2" text-anchor="middle" fill="#3a3a3a" textLength="6.45" lengthAdjust="spacingAndGlyphs">25</text>
<text x="530.3" y="594.9" font-size="6.2" text-anchor="middle" fill="#3a3a3a" textLength="6.45" lengthAdjust="spacingAndGlyphs">26</text>
<text x="579.38" y="594.9" font-size="6.2" text-anchor="middle" fill="#3a3a3a" textLength="6.45" lengthAdjust="spacingAndGlyphs">29</text>
<text x="628.46" y="594.9" font-size="6.2" text-anchor="middle" fill="#3a3a3a" textLength="6.45" lengthAdjust="spacingAndGlyphs">30</text>
<text x="677.54" y="594.9" font-size="6.2" text-anchor="middle" fill="#3a3a3a" textLength="10.31" lengthAdjust="spacingAndGlyphs">Dec</text>
<text x="726.62" y="594.9" font-size="6.2" text-anchor="middle" fill="#3a3a3a" textLength="3.23" lengthAdjust="spacingAndGlyphs">2</text>
<text x="775.7" y="594.9" font-size="6.2" text-anchor="middle" fill="#3a3a3a" textLength="3.23" lengthAdjust="spacingAndGlyphs">3</text>
<text x="824.78" y="594.9" font-size="6.2" text-anchor="middle" fill="#3a3a3a" textLength="3.23" lengthAdjust="spacingAndGlyphs">6</text>
<text x="873.86" y="594.9" font-size="6.2" text-anchor="middle" fill="#3a3a3a" textLength="3.23" lengthAdjust="spacingAndGlyphs">7</text>
</g>
<circle cx="19" cy="592.5" r="4.4" fill="#f0f3fa"/><text x="19" y="594.7" font-size="5.8" text-anchor="middle" fill="#555">2</text>
<circle cx="48.1" cy="574.5" r="8.1" fill="#fff" stroke="#ebedf2" stroke-width="0.6"/>
<path d="M43 572H46.9V577.9H45.05V574H43Z M50.9 572H53.3L51.25 577.9H49.08Z" fill="#111"/><circle cx="48.6" cy="573.1" r="0.85" fill="#111"/>
<text x="41" y="9.7" font-size="7.5" fill="#333" textLength="128.2" lengthAdjust="spacingAndGlyphs">U.S. Dollar / Turkish Lira · 4h · FXCM</text>
<path d="M180.4 2.1H186.1V10.8H180.4A4.35 4.35 0 0 1 180.4 2.1Z" fill="#26a69a" fill-opacity="0.18"/>
<path d="M186.1 2.1H191.7A4.35 4.35 0 0 1 191.7 10.8H186.1Z" fill="#e91e63" fill-opacity="0.16"/>
<circle cx="181.5" cy="6.5" r="2.1" fill="#009688"/>
<path d="M187.9 5.5H192.5M187.9 7.6H192.5" stroke="#d81b60" stroke-width="1"/>
<text x="204.2" y="9.75" font-size="6.7" fill="#555" textLength="3.7" lengthAdjust="spacingAndGlyphs">O</text>
<text x="209.5" y="9.75" font-size="6.7" fill="#26a69a" textLength="25.5" lengthAdjust="spacingAndGlyphs">13.05525</text>
<text x="238.3" y="9.75" font-size="6.7" fill="#555" textLength="3.4" lengthAdjust="spacingAndGlyphs">H</text>
<text x="242.8" y="9.75" font-size="6.7" fill="#26a69a" textLength="25.9" lengthAdjust="spacingAndGlyphs">13.34730</text>
<text x="272.2" y="9.75" font-size="6.7" fill="#555" textLength="2.6" lengthAdjust="spacingAndGlyphs">L</text>
<text x="275.8" y="9.75" font-size="6.7" fill="#26a69a" textLength="25.9" lengthAdjust="spacingAndGlyphs">12.85274</text>
<text x="305" y="9.75" font-size="6.7" fill="#555" textLength="3.7" lengthAdjust="spacingAndGlyphs">C</text>
<text x="309.5" y="9.75" font-size="6.7" fill="#26a69a" textLength="25.5" lengthAdjust="spacingAndGlyphs">13.33948</text>
<text x="338.8" y="9.75" font-size="6.7" fill="#26a69a" textLength="25.4" lengthAdjust="spacingAndGlyphs">+0.28423</text>
<text x="367" y="9.75" font-size="6.7" fill="#26a69a" textLength="24.2" lengthAdjust="spacingAndGlyphs">(+2.18%)</text>
<rect x="40.5" y="14.5" width="33.2" height="12" rx="2" fill="#fff" stroke="#ef5350" stroke-width="0.6"/>
<text x="45" y="22.7" font-size="6.2" fill="#ef5350">13.3394<tspan font-size="4.3" dy="-2">8</tspan></text>
<text x="77.9" y="22.6" font-size="5.6" fill="#777" textLength="13.6" lengthAdjust="spacingAndGlyphs">421.7</text>
<rect x="95.6" y="14.5" width="33.3" height="12" rx="2" fill="#fff" stroke="#2962ff" stroke-width="0.6"/>
<text x="100" y="22.7" font-size="6.2" fill="#2962ff">13.3816<tspan font-size="4.3" dy="-2">5</tspan></text>
<text x="41" y="36.8" font-size="6.6" fill="#555" textLength="8.6" lengthAdjust="spacingAndGlyphs">Vol</text>
<text x="53.75" y="36.8" font-size="6.6" fill="#26a69a" textLength="16" lengthAdjust="spacingAndGlyphs">7.31K</text>
<text x="40.8" y="395.1" font-size="6.6" fill="#444" textLength="34.2" lengthAdjust="spacingAndGlyphs">RSI 14 close</text>
<text x="78.8" y="395.1" font-size="6.6" fill="#7e57c2" textLength="16.2" lengthAdjust="spacingAndGlyphs">66.38</text>
<text x="40.8" y="481.9" font-size="6.6" fill="#444" textLength="83.4" lengthAdjust="spacingAndGlyphs">MACD 12 26 close 9 EMA EMA</text>
<text x="128" y="481.9" font-size="6.6" fill="#a6d9d3" textLength="22.3" lengthAdjust="spacingAndGlyphs">0.02160</text>
<text x="153.8" y="481.9" font-size="6.6" fill="#2962ff" textLength="22.5" lengthAdjust="spacingAndGlyphs">0.35375</text>
<text x="179.5" y="481.9" font-size="6.6" fill="#ff6d00" textLength="22.5" lengthAdjust="spacingAndGlyphs">0.33215</text>
<rect x="0" y="0" width="1.5" height="600" fill="#e0e3eb"/><rect x="0" y="598.6" width="900" height="1.4" fill="#e0e3eb"/>
</svg>
</body></html>
